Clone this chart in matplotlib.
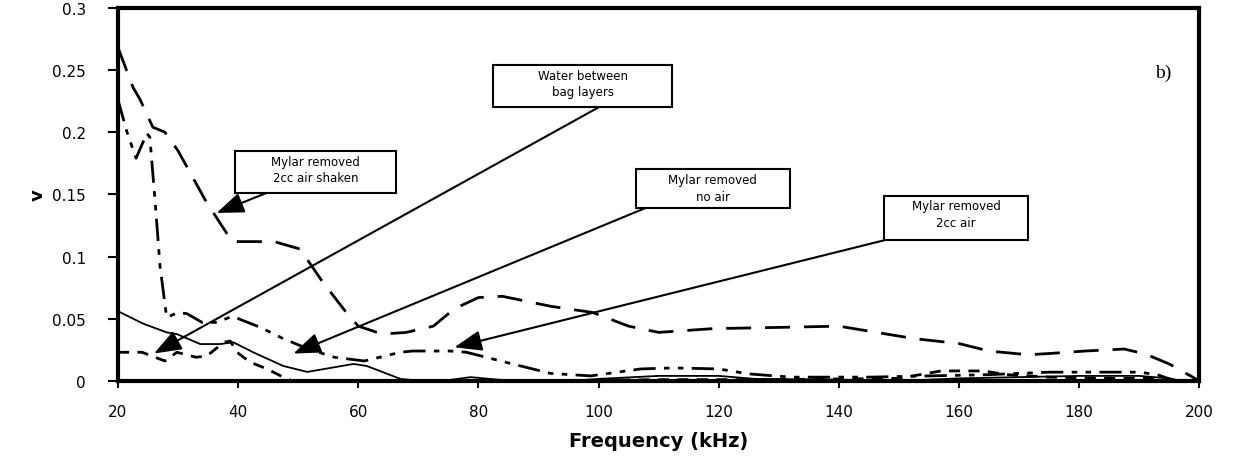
import matplotlib
matplotlib.use("Agg")
import matplotlib.pyplot as plt
from matplotlib.patches import Rectangle

plt.rcParams['font.family'] = ['DejaVu Sans']

# Mylar removed 2cc air shaken (long dash)
freq_a = [20, 22.5, 23.7, 25.8, 27.8, 30, 34.8, 35.9, 39, 46, 50.3, 54, 58, 60, 64,
          68, 72.5, 76, 80, 84, 92, 99, 105, 110, 119, 130, 140, 145, 152.5, 160,
          165, 171.5, 175, 181, 187.5, 191, 195, 200]
v_a = [0.268, 0.236, 0.226, 0.204, 0.2, 0.185, 0.143, 0.135, 0.112, 0.112, 0.106,
       0.08, 0.055, 0.044, 0.0376, 0.039, 0.044, 0.058, 0.067, 0.068, 0.06, 0.055,
       0.044, 0.039, 0.042, 0.043, 0.044, 0.04, 0.034, 0.03, 0.024, 0.021, 0.022,
       0.024, 0.0256, 0.0216, 0.0136, 0.0]

# Mylar removed 2cc air (dash-dot-dot)
freq_b = [20, 21.5, 23, 24.8, 25.3, 26.2, 27, 28.1, 30, 31.5, 34, 36.5, 39, 43.7,
          47.5, 51.5, 56, 61, 67, 69, 75.3, 78, 83.7, 92, 98.7, 107, 112.5, 120,
          125, 132, 145, 155, 165, 175, 182, 190, 193, 196, 200]
v_b = [0.226, 0.2, 0.179, 0.199, 0.196, 0.143, 0.092, 0.051, 0.055, 0.054, 0.047,
       0.047, 0.052, 0.043, 0.034, 0.026, 0.019, 0.016, 0.023, 0.024, 0.024, 0.023,
       0.016, 0.006, 0.004, 0.0096, 0.0104, 0.0096, 0.0056, 0.003, 0.003, 0.004,
       0.005, 0.007, 0.007, 0.007, 0.005, 0.0, 0.0]

# Water between bag layers (solid)
freq_c = [20, 24.2, 28.1, 29.8, 33.7, 37, 39.2, 42.5, 47.5, 51.5, 59.2, 61.4, 67,
          72.5, 78.7, 90, 100, 110, 120, 126, 140, 150, 160, 170, 180, 190, 195,
          198, 200]
v_c = [0.056, 0.046, 0.039, 0.0376, 0.0296, 0.0296, 0.031, 0.023, 0.012, 0.0072,
       0.0136, 0.012, 0.0016, -0.001, 0.003, -0.002, 0.0016, 0.004, 0.004, 0.0016,
       0.001, 0.0, 0.002, 0.003, 0.004, 0.004, 0.002, -0.001, 0.0]

# Mylar removed no air (short dash)
freq_d = [20, 24, 27.8, 29.8, 33, 34.8, 37.6, 38.7, 39.8, 42, 44.8, 47.5, 49, 55,
          65, 75, 90, 110, 130, 150, 157, 164, 168, 175, 185, 192, 196, 200]
v_d = [0.023, 0.023, 0.016, 0.023, 0.019, 0.02, 0.031, 0.032, 0.023, 0.015, 0.0096,
       0.003, 0.0, -0.001, 0.0, -0.002, 0.0, 0.001, 0.001, 0.002, 0.008, 0.008,
       0.005, 0.003, 0.002, 0.002, 0.0, 0.0]

x_ticks = [20, 40, 60, 80, 100, 120, 140, 160, 180, 200]
y_ticks = [0, 0.05, 0.1, 0.15, 0.2, 0.25, 0.3]
y_labels = ['0', '0.05', '0.1', '0.15', '0.2', '0.25', '0.3']

fig = plt.figure(figsize=(12.33, 4.64), dpi=100)
ax = fig.add_axes([0.0957, 0.177, 0.877, 0.804])

ax.plot(freq_a, v_a, color='black', lw=2, dashes=(9, 5))
ax.plot(freq_b, v_b, color='black', lw=2, dashes=(8, 3, 2, 3, 2, 3))
ax.plot(freq_c, v_c, color='black', lw=1.3)
ax.plot(freq_d, v_d, color='black', lw=2, dashes=(4, 3))

ax.set_xlim(20, 200)
ax.set_ylim(0, 0.3)
ax.set_xticks(x_ticks)
ax.set_xticklabels([str(t) for t in x_ticks])
ax.set_yticks(y_ticks)
ax.set_yticklabels(y_labels)
for s in ax.spines.values():
    s.set_linewidth(3)
ax.tick_params(axis='x', length=5, width=1.5, pad=12, labelsize=11)
ax.tick_params(axis='y', length=7, width=1.5, pad=16, labelsize=11)

ax.set_xlabel('Frequency (kHz)', fontsize=14, fontweight='bold', labelpad=8)
ax.set_ylabel('v', fontsize=13, fontweight='bold', labelpad=4)

ax.text(194, 0.248, 'b)', family=['Liberation Serif'], fontsize=14,
        ha='center', va='center')

# annotation boxes: (x0, y0, x1, y1) in data units, text, arrow tail, arrow head
notes = [
    ((39.5, 0.151, 66.2, 0.185), 'Mylar removed\n2cc air shaken', (46.2, 0.154), (36.4, 0.135)),
    ((82.5, 0.22, 112.2, 0.254), 'Water between\nbag layers', (100, 0.22), (26.0, 0.022)),
    ((106.2, 0.139, 131.8, 0.170), 'Mylar removed\nno air', (107.8, 0.139), (49.2, 0.022)),
    ((147.5, 0.113, 171.5, 0.149), 'Mylar removed\n2cc air', (147.5, 0.113), (76.0, 0.027)),
]
for (x0, y0, x1, y1), label, tail, head in notes:
    ax.add_patch(Rectangle((x0, y0), x1 - x0, y1 - y0, fill=True, facecolor='white',
                           edgecolor='black', lw=1.5, zorder=4))
    ax.text((x0 + x1) / 2, y1 - 0.003, label, ha='center', va='top', fontsize=8.5,
            linespacing=1.35, zorder=5)
    ax.annotate('', xy=head, xytext=tail,
                arrowprops=dict(arrowstyle='-|>,head_length=1.2,head_width=0.45',
                                color='black', lw=1.5, mutation_scale=14,
                                shrinkA=0, shrinkB=0), zorder=3)

fig.savefig('out.png', dpi=100)
